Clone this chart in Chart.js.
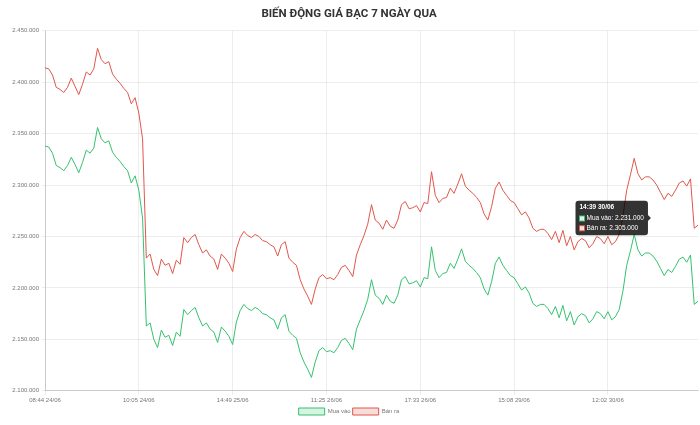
<!DOCTYPE html>
<html lang="vi">
<head>
    <meta charset="UTF-8">
    <title>Biến động giá bạc 7 ngày qua</title>
    <script src="https://cdn.jsdelivr.net/npm/chart.js"></script>
    <style>
        body {
            margin: 0;
            background-color: #ffffff;
        }
        canvas {
            display: block;
        }
    </style>
</head>
<body>
    <canvas id="silverChart" width="700" height="425"></canvas>

    <script>
        // nhãn trục x: một nhãn mỗi 25 điểm
        const tickLabels = ['08:44 24/06', '10:05 24/06', '14:49 25/06', '11:25 26/06', '17:33 26/06', '15:08 29/06', '12:02 30/06'];
        const tickStep = 25;

        // điểm đang được hover trong ảnh gốc
        const hoverIndex = 162;
        const hoverLabel = '14:39 30/06';

        const seriesNames = ['Mua vào', 'Bán ra'];

        // giá mua vào (VND)
        const buyPrices = [
            2338000, 2337000, 2331000, 2319000, 2317000, 2314000, 2319000, 2327000, 2320000, 2312000,
            2322000, 2334000, 2331000, 2336000, 2356000, 2345000, 2341000, 2343000, 2332000, 2327000,
            2323000, 2318000, 2314000, 2302000, 2309000, 2295000, 2268000, 2163000, 2166000, 2150000,
            2142000, 2159000, 2152000, 2154000, 2144000, 2157000, 2153000, 2179000, 2174000, 2178000,
            2181000, 2171000, 2163000, 2166000, 2160000, 2157000, 2147000, 2162000, 2158000, 2153000,
            2145000, 2167000, 2178000, 2184000, 2180000, 2178000, 2181000, 2179000, 2175000, 2174000,
            2171000, 2169000, 2160000, 2171000, 2174000, 2158000, 2154000, 2151000, 2137000, 2128000,
            2121000, 2113000, 2128000, 2139000, 2142000, 2138000, 2139000, 2137000, 2142000, 2149000,
            2151000, 2146000, 2140000, 2160000, 2169000, 2178000, 2189000, 2208000, 2193000, 2190000,
            2184000, 2193000, 2187000, 2185000, 2193000, 2208000, 2211000, 2204000, 2205000, 2207000,
            2201000, 2210000, 2209000, 2240000, 2217000, 2210000, 2214000, 2215000, 2224000, 2219000,
            2228000, 2238000, 2226000, 2222000, 2219000, 2215000, 2210000, 2199000, 2193000, 2206000,
            2224000, 2230000, 2222000, 2217000, 2212000, 2210000, 2204000, 2198000, 2201000, 2195000,
            2185000, 2182000, 2184000, 2184000, 2180000, 2174000, 2182000, 2171000, 2183000, 2168000,
            2177000, 2164000, 2172000, 2175000, 2173000, 2166000, 2170000, 2177000, 2175000, 2170000,
            2177000, 2169000, 2172000, 2179000, 2197000, 2222000, 2236000, 2252000, 2237000, 2231000,
            2234000, 2234000, 2231000, 2226000, 2219000, 2212000, 2218000, 2215000, 2221000, 2228000,
            2230000, 2225000, 2232000, 2184000, 2187000
        ];

        // giá bán ra (VND)
        const sellPrices = [
            2414000, 2413000, 2407000, 2395000, 2393000, 2390000, 2395000, 2404000, 2396000, 2388000,
            2398000, 2410000, 2407000, 2413000, 2433000, 2422000, 2418000, 2420000, 2408000, 2403000,
            2399000, 2394000, 2390000, 2379000, 2385000, 2370000, 2345000, 2229000, 2233000, 2218000,
            2212000, 2228000, 2222000, 2224000, 2214000, 2227000, 2223000, 2249000, 2244000, 2249000,
            2252000, 2242000, 2234000, 2237000, 2231000, 2228000, 2218000, 2233000, 2229000, 2224000,
            2216000, 2238000, 2249000, 2255000, 2251000, 2249000, 2252000, 2250000, 2246000, 2245000,
            2242000, 2240000, 2231000, 2242000, 2245000, 2229000, 2225000, 2222000, 2208000, 2199000,
            2192000, 2184000, 2199000, 2210000, 2213000, 2209000, 2210000, 2208000, 2213000, 2220000,
            2222000, 2217000, 2211000, 2232000, 2242000, 2251000, 2262000, 2281000, 2266000, 2263000,
            2257000, 2266000, 2260000, 2258000, 2266000, 2281000, 2284000, 2277000, 2278000, 2280000,
            2274000, 2283000, 2282000, 2313000, 2290000, 2283000, 2287000, 2288000, 2297000, 2292000,
            2301000, 2311000, 2299000, 2295000, 2292000, 2288000, 2283000, 2272000, 2266000, 2279000,
            2297000, 2303000, 2295000, 2290000, 2285000, 2283000, 2277000, 2271000, 2274000, 2268000,
            2258000, 2255000, 2257000, 2257000, 2253000, 2247000, 2255000, 2244000, 2256000, 2241000,
            2250000, 2237000, 2245000, 2248000, 2246000, 2239000, 2243000, 2250000, 2248000, 2243000,
            2250000, 2242000, 2245000, 2252000, 2270000, 2295000, 2310000, 2326000, 2311000, 2305000,
            2308000, 2308000, 2305000, 2300000, 2293000, 2286000, 2292000, 2289000, 2295000, 2302000,
            2304000, 2299000, 2306000, 2258000, 2261000
        ];

        // định dạng số kiểu Việt Nam: 2.450.000
        function formatVnd(value) {
            return String(Math.round(value)).replace(/\B(?=(\d{3})+(?!\d))/g, '.');
        }

        Chart.defaults.font.family = 'Arial, "Liberation Sans", sans-serif';
        Chart.defaults.color = '#777';

        const ctx = document.getElementById('silverChart').getContext('2d');

        const chart = new Chart(ctx, {
            type: 'line',
            data: {
                datasets: [
                    {
                        label: seriesNames[0],
                        data: buyPrices.map((v, i) => ({ x: i, y: v })),
                        borderColor: '#35c16f',
                        backgroundColor: 'rgba(53, 193, 111, 0.2)',
                        borderWidth: 1,
                        pointRadius: 0,
                        pointHoverRadius: 0,
                        tension: 0
                    },
                    {
                        label: seriesNames[1],
                        data: sellPrices.map((v, i) => ({ x: i, y: v })),
                        borderColor: '#e0574b',
                        backgroundColor: 'rgba(224, 87, 75, 0.2)',
                        borderWidth: 1,
                        pointRadius: 0,
                        pointHoverRadius: 0,
                        tension: 0
                    }
                ]
            },
            options: {
                responsive: false,
                animation: false,
                layout: {
                    padding: { left: 0, right: 2, top: 0, bottom: 0 }
                },
                interaction: {
                    mode: 'index',
                    intersect: false
                },
                scales: {
                    x: {
                        type: 'linear',
                        min: 0,
                        max: buyPrices.length - 1,
                        afterBuildTicks: (scale) => {
                            scale.ticks = tickLabels.map((_, k) => ({ value: k * tickStep }));
                        },
                        ticks: {
                            autoSkip: false,
                            maxRotation: 0,
                            padding: 2,
                            font: { size: 6 },
                            callback: (value) => tickLabels[Math.round(value / tickStep)] || ''
                        },
                        grid: {
                            color: 'rgba(0, 0, 0, 0.07)',
                            tickLength: 4
                        },
                        border: { color: 'rgba(0, 0, 0, 0.15)' }
                    },
                    y: {
                        min: 2100000,
                        max: 2450000,
                        afterFit: (scale) => {
                            scale.width = 45;
                        },
                        ticks: {
                            stepSize: 50000,
                            padding: 3,
                            font: { size: 6 },
                            callback: (value) => formatVnd(value)
                        },
                        grid: {
                            color: 'rgba(0, 0, 0, 0.07)',
                            tickLength: 3
                        },
                        border: { color: 'rgba(0, 0, 0, 0.15)' }
                    }
                },
                plugins: {
                    title: {
                        display: true,
                        text: 'BIẾN ĐỘNG GIÁ BẠC 7 NGÀY QUA',
                        color: '#333',
                        font: { family: 'Roboto', size: 11.5, weight: 'bold' },
                        padding: { top: 7, bottom: 10 }
                    },
                    legend: {
                        position: 'bottom',
                        labels: {
                            boxWidth: 26,
                            boxHeight: 7,
                            padding: 2,
                            font: { size: 6 }
                        }
                    },
                    tooltip: {
                        backgroundColor: 'rgba(0, 0, 0, 0.8)',
                        titleFont: { size: 6.5, weight: 'bold' },
                        bodyFont: { size: 6.5 },
                        padding: { x: 4, y: 3 },
                        titleMarginBottom: 3,
                        bodySpacing: 2,
                        caretSize: 3,
                        cornerRadius: 3,
                        boxWidth: 5,
                        boxHeight: 5,
                        callbacks: {
                            title: (items) => {
                                const idx = items[0].dataIndex;
                                if (idx === hoverIndex) return hoverLabel;
                                return tickLabels[idx / tickStep] || '';
                            },
                            label: (item) => item.dataset.label + ': ' + formatVnd(item.parsed.y)
                        }
                    }
                }
            }
        });

        // hiện tooltip như trong ảnh gốc
        chart.tooltip.setActiveElements([
            { datasetIndex: 0, index: hoverIndex },
            { datasetIndex: 1, index: hoverIndex }
        ], { x: 0, y: 0 });
        chart.update();
    </script>
</body>
</html>
